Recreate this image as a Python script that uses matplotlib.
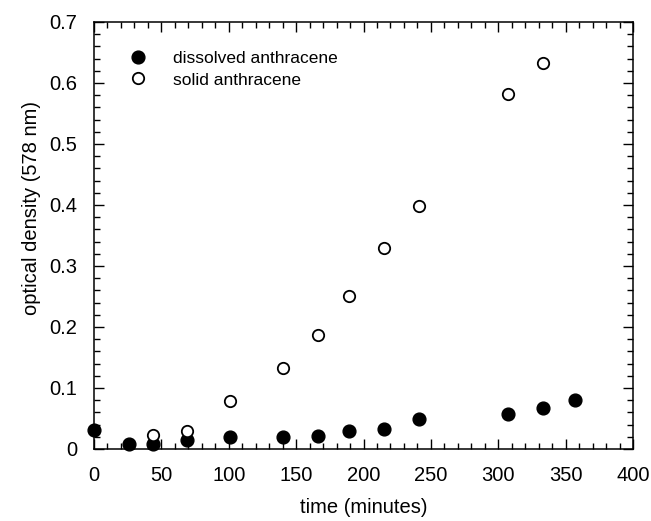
import matplotlib
matplotlib.use("Agg")
import matplotlib.pyplot as plt
from matplotlib.ticker import MultipleLocator

plt.rcParams['font.family'] = ['Liberation Sans', 'DejaVu Sans']

# dissolved anthracene (filled circles)
t_dissolved = [0, 26, 44, 69, 101, 140, 166, 189, 215, 241, 307, 333, 357]
od_dissolved = [0.031, 0.009, 0.009, 0.015, 0.019, 0.020, 0.022, 0.030,
                0.033, 0.049, 0.058, 0.068, 0.080]

# solid anthracene (open circles)
t_solid = [44, 69, 101, 140, 166, 189, 215, 241, 307, 333]
od_solid = [0.023, 0.029, 0.079, 0.133, 0.187, 0.250, 0.330, 0.398,
            0.582, 0.632]

fig = plt.figure(figsize=(6.51, 5.21), dpi=100)
ax = fig.add_axes([0.1444, 0.1382, 0.828, 0.8196])

ax.plot(t_dissolved, od_dissolved, 'o', color='black', markersize=9.2,
        label='dissolved anthracene', clip_on=False, zorder=3)
ax.plot(t_solid, od_solid, 'o', markerfacecolor='white', markeredgecolor='black',
        markeredgewidth=1.3, markersize=8.2, label='solid anthracene',
        clip_on=False, zorder=3)

ax.set_xlim(0, 400)
ax.set_ylim(0, 0.7)
ax.xaxis.set_major_locator(MultipleLocator(50))
ax.xaxis.set_minor_locator(MultipleLocator(10))
ax.yaxis.set_major_locator(MultipleLocator(0.1))
ax.yaxis.set_minor_locator(MultipleLocator(0.02))
ax.yaxis.set_major_formatter(plt.FuncFormatter(lambda v, p: '0' if abs(v) < 1e-9 else f'{v:.1f}'))

ax.tick_params(which='both', direction='in', top=True, right=True, width=1.0)
ax.tick_params(which='major', length=7, labelsize=14.5)
ax.tick_params(axis='x', which='major', pad=12)
ax.tick_params(axis='y', which='major', pad=12)
ax.tick_params(which='minor', length=4)
for s in ax.spines.values():
    s.set_linewidth(1.1)

ax.set_xlabel('time (minutes)', fontsize=14.5)
ax.xaxis.set_label_coords(0.5, -0.115)
ax.set_ylabel('optical density (578 nm)', fontsize=14.5)
ax.yaxis.set_label_coords(-0.098, 0.564)

ax.legend(loc='center left', bbox_to_anchor=(0.063, 0.889), frameon=False,
          fontsize=12.5, handletextpad=1.4, handlelength=1.2,
          labelspacing=0.35, borderaxespad=0, borderpad=0)

fig.savefig('out.png', dpi=100)
